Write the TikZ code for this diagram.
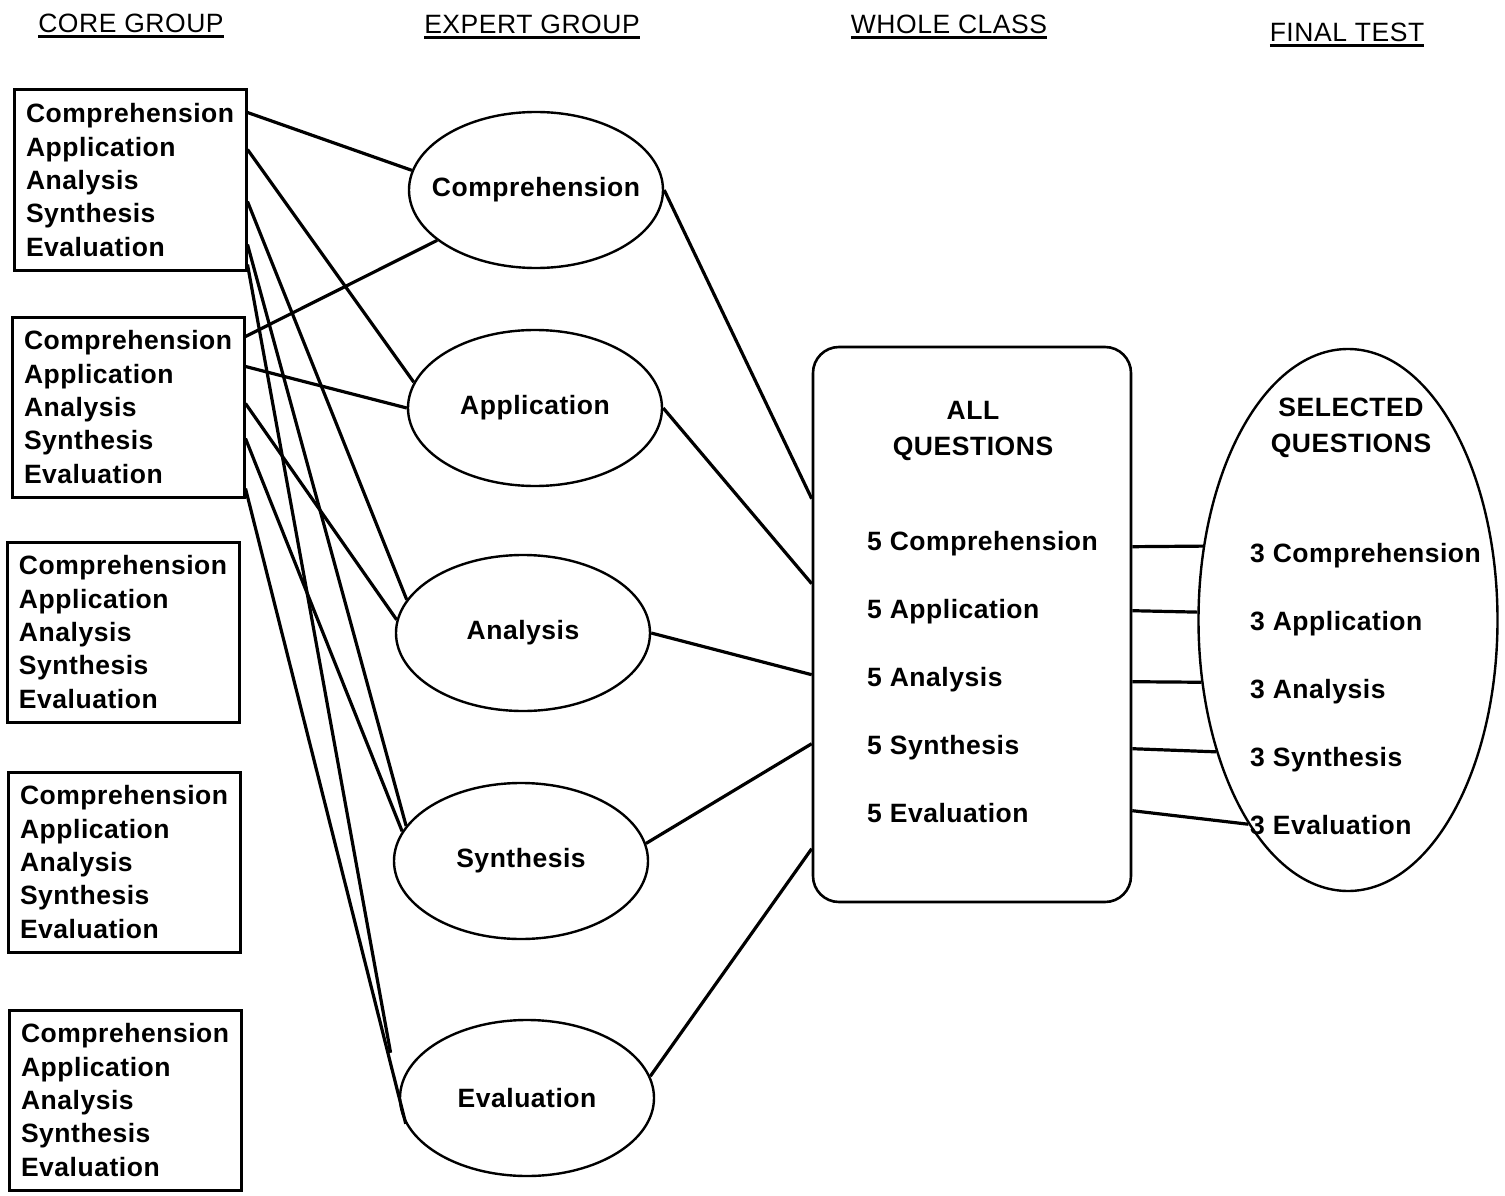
\documentclass[tikz,border=0pt]{standalone}
\usepackage{fontspec}
\setmainfont{Liberation Sans}[LetterSpace=2]
\newcommand\ulbar[1]{\setbox0\hbox{#1}\rlap{\rule[-5pt]{\wd0}{2.8pt}}\box0}
\usetikzlibrary{calc, shapes.geometric}

\begin{document}
\begin{tikzpicture}[x=1pt, y=-1pt,
    core/.style={draw, line width=3pt, rectangle, text width=208pt, align=left, inner xsep=12pt, inner ysep=0pt, minimum height=180pt, font=\fontsize{26.5pt}{33.3pt}\selectfont\bfseries},
    expert/.style={draw, line width=2.4pt, ellipse, inner sep=0pt, minimum width=254pt, minimum height=156pt},
    heading/.style={font=\fontsize{26.5pt}{30pt}\selectfont},
    txt/.style={font=\fontsize{26.5pt}{36pt}\selectfont\bfseries, align=center},
    qitem/.style={font=\fontsize{26.5pt}{30pt}\selectfont\bfseries, anchor=base west, inner sep=0pt},
    link/.style={line width=3.2pt}]
  \useasboundingbox (0,0) rectangle (1505,1196);
  \node[heading] (hcore) at (131,26) {\ulbar{CORE GROUP}};
  \node[heading] (hexp) at (532,27) {\ulbar{EXPERT GROUP}};
  \node[heading] (hwhole) at (949,27) {\ulbar{WHOLE CLASS}};
  \node[heading] (hfin) at (1347,35) {\ulbar{FINAL TEST}};
  \foreach \i/\x/\y in {1/130/180, 2/128/407, 3/123/632, 4/124/862, 5/125/1100}
    \node[core] (b\i) at (\x,\y) {Comprehension\\Application\\Analysis\\Synthesis\\Evaluation};
  \node[expert, label={[txt]center:Comprehension}] (cp) at (536,190) {};
  \node[expert, label={[txt]center:Application}] (ap) at (535,408) {};
  \node[expert, label={[txt]center:Analysis}] (an) at (523,633) {};
  \node[expert, label={[txt]center:Synthesis}] (sy) at (521,861) {};
  \node[expert, label={[txt]center:Evaluation}] (ev) at (527,1098) {};
  \node[draw, line width=2.6pt, rounded corners=26pt, minimum width=318pt, minimum height=555pt] (wc) at (972,624.5) {};
  \node[draw, line width=2.4pt, ellipse, inner sep=0pt, minimum width=299pt, minimum height=542pt] (fin) at (1348,620) {};
  \node[txt] (allq) at (973,431) {ALL\\QUESTIONS};
  \node[txt] (selq) at (1351,428) {SELECTED\\QUESTIONS};
  \foreach \j/\t in {0/Comprehension, 1/Application, 2/Analysis, 3/Synthesis, 4/Evaluation} {
    \node[qitem] (w\j) at (867,550+68*\j) {5 \t};
    \node[qitem] (f\j) at (1250,562+68*\j) {3 \t};
  }
  \foreach \b/\dy/\e/\a/\s in {1/24/cp/171/0, 1/61/ap/168/0, 1/113/an/164/0, 1/156/sy/163/0, 1/176/ev/180/46,
                               2/21/cp/207/0, 2/51/ap/180/0, 2/88/an/174/0, 2/123/sy/166/0, 2/173/ev/192/0}
    \draw[link, shorten >=\s pt] ($(b\b.north east)+(0,\dy)$) -- (\e.\a);
  \foreach \e/\a/\dy in {cp/0/153, ap/0/238, an/0/329, sy/8/398, ev/10/503}
    \draw[link] (\e.\a) -- ($(wc.north west)+(0,\dy)$);
  \foreach \dy/\a in {201/153, 265/177, 336/203, 403/225, 465/244}
    \draw[link] ($(wc.north east)+(0,\dy)$) -- (fin.\a);
\end{tikzpicture}
\end{document}
